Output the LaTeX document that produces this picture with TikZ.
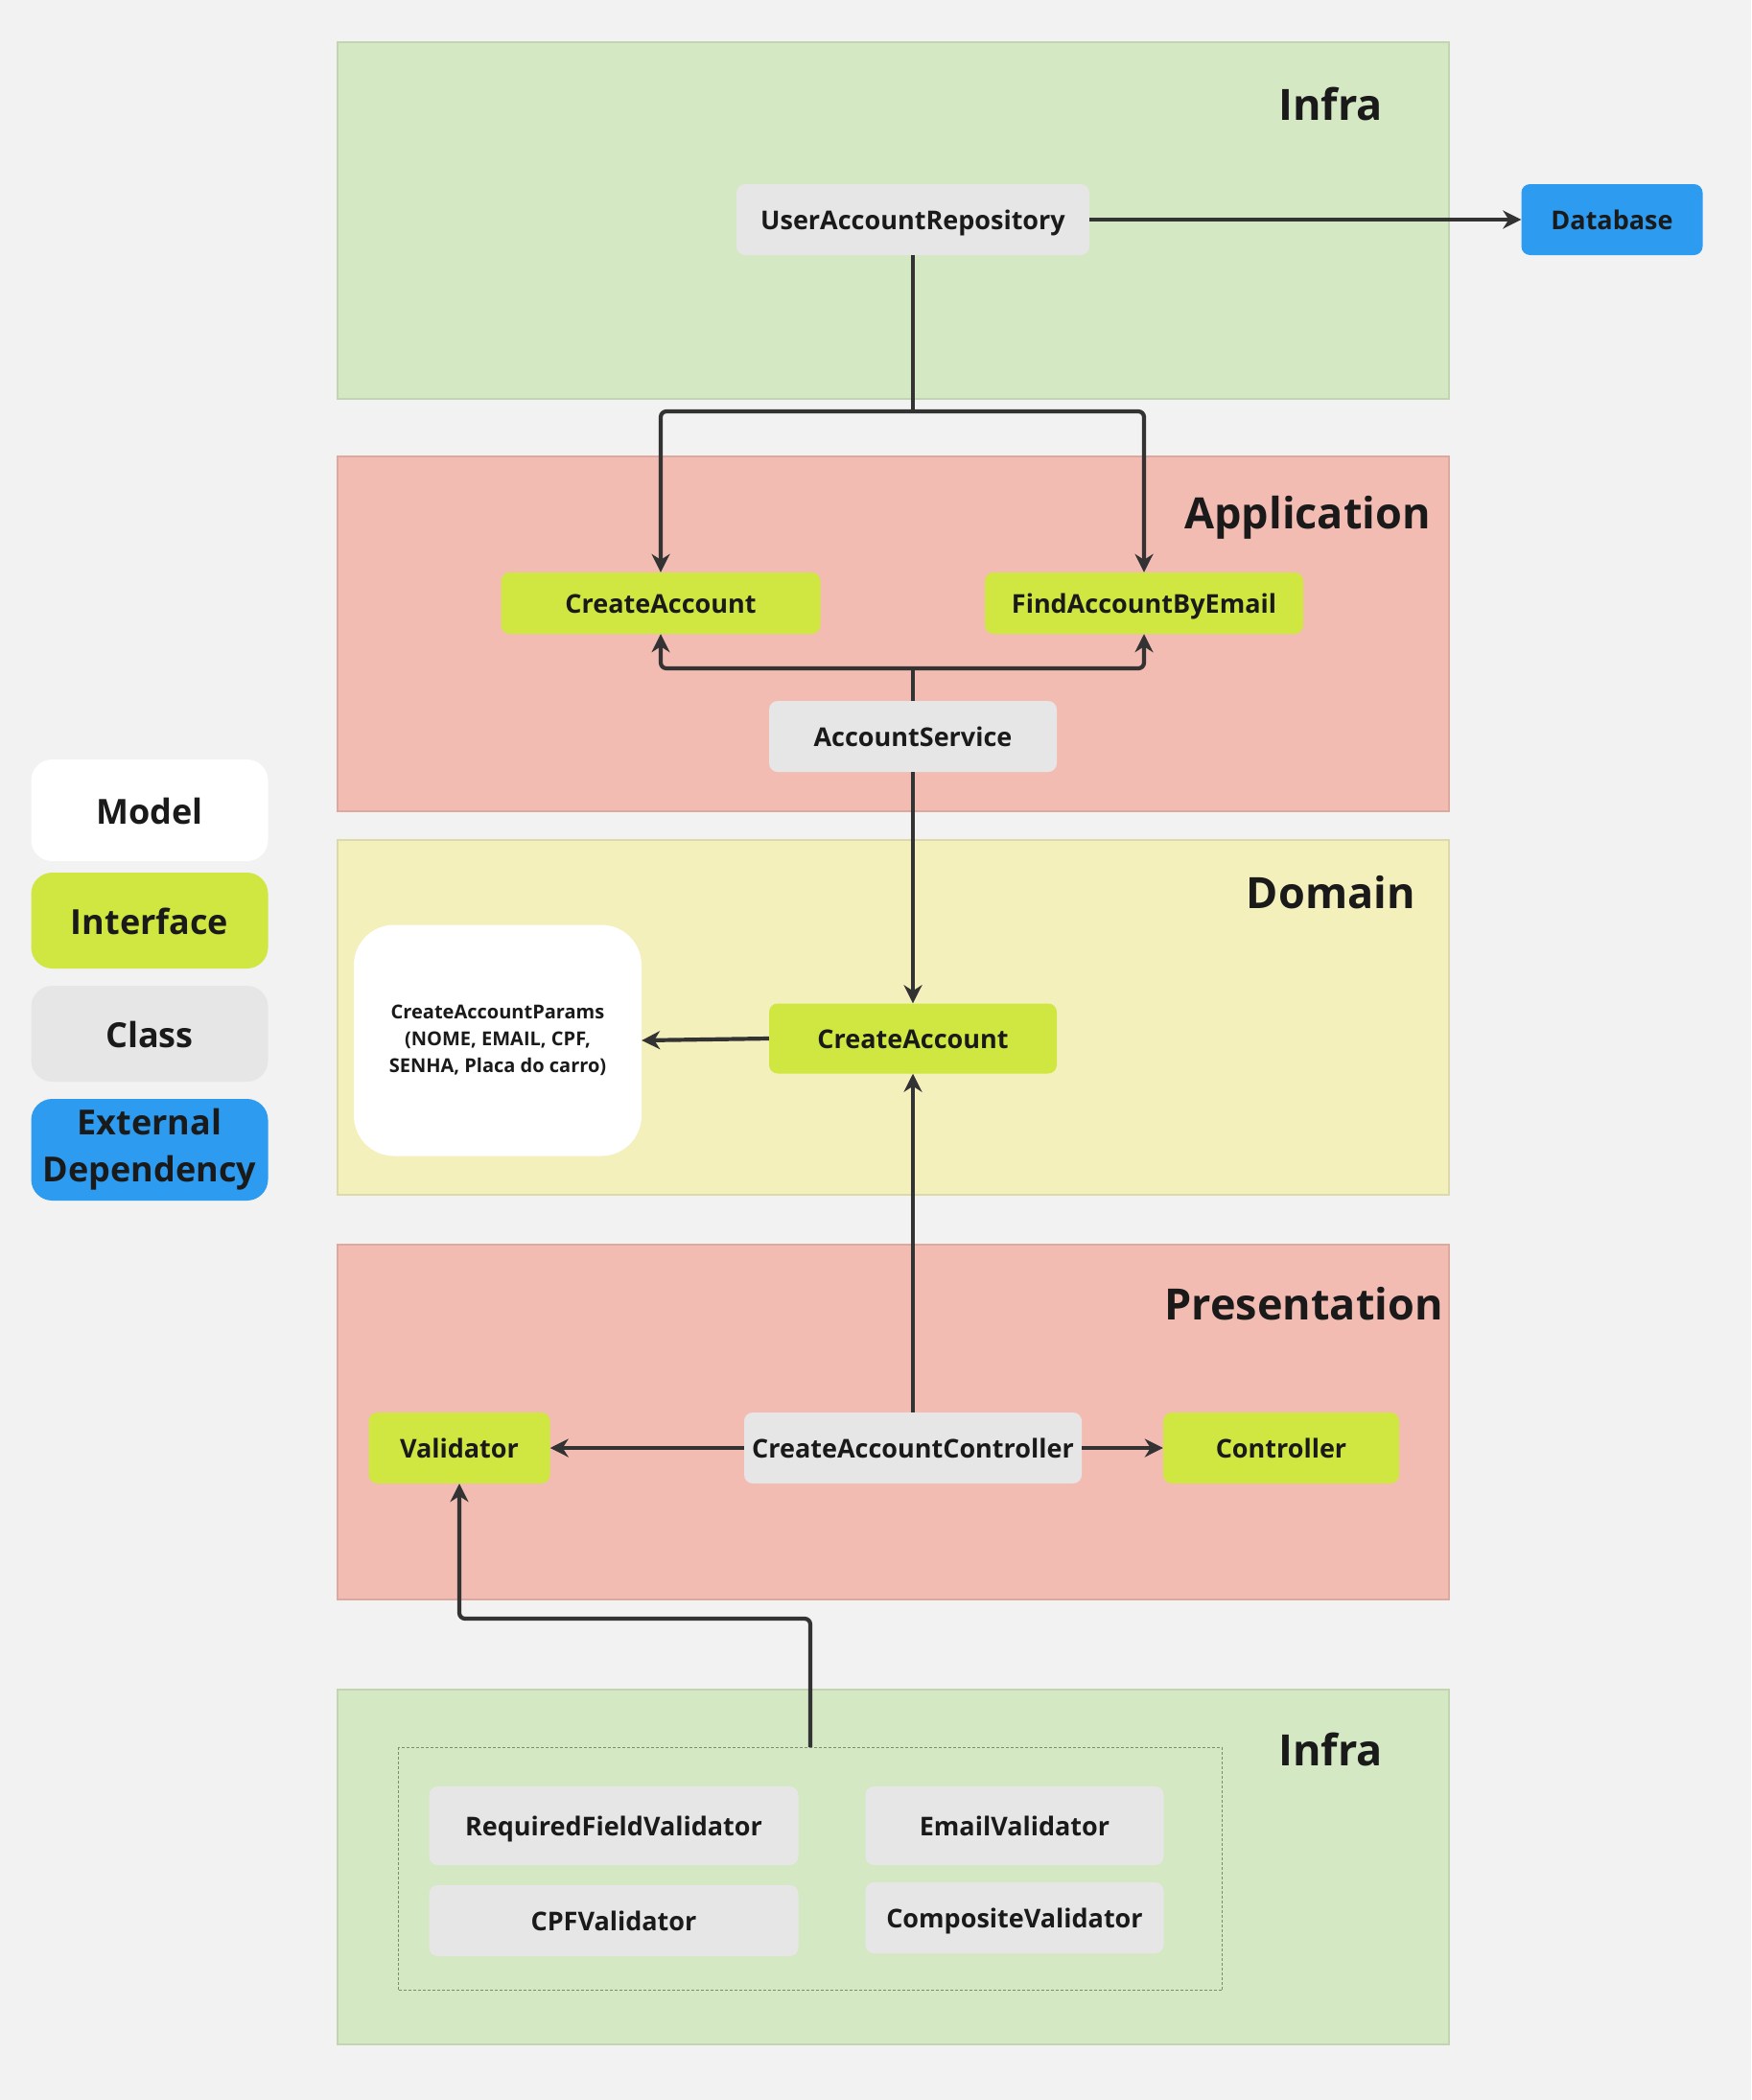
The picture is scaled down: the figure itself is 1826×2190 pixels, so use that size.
\documentclass[tikz,border=0pt]{standalone}
\usepackage{fontspec}
\setmainfont{Open Sans}
\usetikzlibrary{arrows.meta}
\definecolor{bg}{HTML}{F2F2F2}
\definecolor{infrac}{HTML}{D5E8C4}
\definecolor{infrab}{HTML}{C3D4B3}
\definecolor{appc}{HTML}{F2BCB3}
\definecolor{appb}{HTML}{DCA9A1}
\definecolor{domc}{HTML}{F3F0BC}
\definecolor{domb}{HTML}{DCD9AA}
\definecolor{limec}{HTML}{D0E641}
\definecolor{grayc}{HTML}{E6E6E6}
\definecolor{bluec}{HTML}{2D9BF0}
\definecolor{linec}{HTML}{333333}
\definecolor{txtc}{HTML}{1A1A1A}
\definecolor{dashc}{HTML}{7D8C70}
\tikzset{
  panel/.style={draw, line width=1.5pt, anchor=north west, inner sep=0pt},
  ptitle/.style={anchor=east, text=txtc, font=\bfseries\fontsize{45}{54}\selectfont, inner sep=0pt, text height=34pt, text depth=0pt},
  box/.style={rounded corners=9pt, inner sep=0pt, text=txtc, font=\bfseries\fontsize{27}{32}\selectfont, text height=24pt, text depth=3pt},
  iface/.style={box, fill=limec},
  cls/.style={box, fill=grayc},
  ext/.style={box, fill=bluec},
  legend/.style={rounded corners=22pt, inner sep=0pt, text=txtc, minimum width=247pt, font=\bfseries\fontsize{36}{49}\selectfont, align=center},
  arr/.style={draw=linec, line width=4.2pt, rounded corners=6pt, -{Stealth[length=19pt,width=19pt,inset=6pt]}},
  ln/.style={draw=linec, line width=4.2pt, rounded corners=6pt},
}
\begin{document}
\begin{tikzpicture}[x=1pt,y=-1pt]
\fill[bg] (0,0) rectangle (1826,2190);
\useasboundingbox (0,0) rectangle (1826,2190);

% panels
\node[panel, fill=infrac, draw=infrab, minimum width=1159pt, minimum height=372pt] (pinfra1) at (351,43) {};
\node[panel, fill=appc, draw=appb, minimum width=1159pt, minimum height=370pt] (papp) at (351,475) {};
\node[panel, fill=domc, draw=domb, minimum width=1159pt, minimum height=370pt] (pdom) at (351,875) {};
\node[panel, fill=appc, draw=appb, minimum width=1159pt, minimum height=370pt] (ppres) at (351,1297) {};
\node[panel, fill=infrac, draw=infrab, minimum width=1159pt, minimum height=370pt] (pinfra2) at (351,1761) {};

\node[ptitle] (t1) at (1442,108) {Infra};
\node[ptitle] (t2) at (1492,534) {Application};
\node[ptitle] (t3) at (1476,930) {Domain};
\node[ptitle] (t4) at (1505,1359) {Presentation};
\node[ptitle] (t5) at (1442,1824) {Infra};

% dashed group
\node[draw=dashc, line width=1.2pt, dash pattern=on 3pt off 2pt, anchor=north west, minimum width=859pt, minimum height=253pt, inner sep=0pt] (vgroup) at (415,1822) {};

% nodes
\node[cls, minimum width=368pt, minimum height=74pt] (urepo) at (952,229) {UserAccountRepository};
\node[ext, minimum width=189pt, minimum height=74pt] (db) at (1681,229) {Database};

\node[iface, minimum width=333pt, minimum height=64pt] (appca) at (689,629) {CreateAccount};
\node[iface, minimum width=332pt, minimum height=64pt] (find) at (1193,629) {FindAccountByEmail};
\node[cls, minimum width=300pt, minimum height=74pt] (svc) at (952,768) {AccountService};

\node[iface, minimum width=300pt, minimum height=73pt] (domca) at (952,1083) {CreateAccount};
\node[rounded corners=42pt, fill=white, minimum width=300pt, minimum height=241pt, inner sep=0pt, text=txtc, align=center, font=\bfseries\fontsize{20}{28}\selectfont] (params) at (519,1085) {CreateAccountParams\\(NOME, EMAIL, CPF,\\SENHA, Placa do carro)};

\node[iface, minimum width=189pt, minimum height=74pt] (val) at (479,1510) {Validator};
\node[cls, minimum width=352pt, minimum height=74pt] (cac) at (952,1510) {CreateAccountController};
\node[iface, minimum width=246pt, minimum height=74pt] (ctrl) at (1336,1510) {Controller};

\node[cls, minimum width=385pt, minimum height=82pt] (rfv) at (640,1904) {RequiredFieldValidator};
\node[cls, minimum width=311pt, minimum height=82pt] (ev) at (1058,1904) {EmailValidator};
\node[cls, minimum width=385pt, minimum height=74pt] (cpf) at (640,2003) {CPFValidator};
\node[cls, minimum width=311pt, minimum height=74pt] (cv) at (1058,2000) {CompositeValidator};

% legend
\node[legend, fill=white, minimum height=106pt, text height=28pt, text depth=0pt] (lmodel) at (156,845) {Model};
\node[legend, fill=limec, minimum height=100pt, text height=28pt, text depth=0pt] (liface) at (156,960) {Interface};
\node[legend, fill=grayc, minimum height=100pt, text height=28pt, text depth=0pt] (lclass) at (156,1078) {Class};
\node[legend, fill=bluec, minimum height=106pt] (lext) at (156,1199) {External\\Dependency};

% connectors
\coordinate (j1) at (952,429);
\coordinate (j2) at (952,697);
\coordinate (vtop) at (845,1822);
\coordinate (j3) at (845,1688);

\draw[arr] (urepo.east) -- (db.west);
\draw[ln] (urepo.south) -- (j1);
\draw[arr] (j1) -| (appca.north);
\draw[arr] (j1) -| (find.north);
\draw[ln] (svc.north) -- (j2);
\draw[arr] (j2) -| (appca.south);
\draw[arr] (j2) -| (find.south);
\draw[arr] (svc.south) -- (domca.north);
\draw[arr] (domca.west) -- (params.east);
\draw[arr] (cac.north) -- (domca.south);
\draw[arr] (cac.west) -- (val.east);
\draw[arr] (cac.east) -- (ctrl.west);
\draw[arr] (vtop) -- (j3) -| (val.south);
\end{tikzpicture}
\end{document}
